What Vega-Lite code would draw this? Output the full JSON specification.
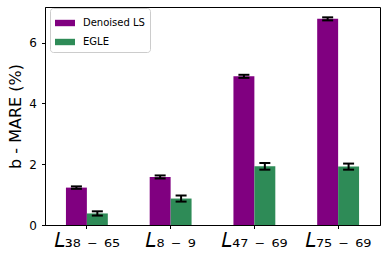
{
  "$schema": "https://vega.github.io/schema/vega-lite/v6.json",
  "width": 335,
  "height": 218,
  "autosize": {"type": "none"},
  "padding": {"left": 45, "top": 7, "right": 7, "bottom": 35},
  "config": {
    "font": "DejaVu Sans",
    "view": {"stroke": "#000000", "strokeWidth": 1},
    "axis": {"domainColor": "#000000", "tickColor": "#000000", "labelColor": "#000000", "titleColor": "#000000", "grid": false, "labelFont": "DejaVu Sans", "titleFont": "DejaVu Sans"},
    "axisY": {"tickSize": 3.5, "labelFontSize": 12, "labelPadding": 5, "titleFontSize": 16, "titleFontWeight": "normal", "titlePadding": 5},
    "axisX": {"tickSize": 3.5, "labelFontSize": 20, "labelPadding": 2, "labelAngle": 0, "title": null}
  },
  "data": {
    "values": [
      {"label": "𝐿₃₈ ₋ ₆₅", "method": "Denoised LS", "value": 1.23, "lo": 1.19, "hi": 1.27},
      {"label": "𝐿₃₈ ₋ ₆₅", "method": "EGLE", "value": 0.38, "lo": 0.31, "hi": 0.45},
      {"label": "𝐿₈ ₋ ₉", "method": "Denoised LS", "value": 1.58, "lo": 1.53, "hi": 1.63},
      {"label": "𝐿₈ ₋ ₉", "method": "EGLE", "value": 0.87, "lo": 0.77, "hi": 0.97},
      {"label": "𝐿₄₇ ₋ ₆₉", "method": "Denoised LS", "value": 4.89, "lo": 4.84, "hi": 4.94},
      {"label": "𝐿₄₇ ₋ ₆₉", "method": "EGLE", "value": 1.93, "lo": 1.82, "hi": 2.04},
      {"label": "𝐿₇₅ ₋ ₆₉", "method": "Denoised LS", "value": 6.78, "lo": 6.73, "hi": 6.83},
      {"label": "𝐿₇₅ ₋ ₆₉", "method": "EGLE", "value": 1.92, "lo": 1.82, "hi": 2.02}
    ]
  },
  "encoding": {
    "x": {"field": "label", "type": "nominal", "sort": null, "scale": {"paddingInner": 0.5, "paddingOuter": 0.25}},
    "xOffset": {"field": "method", "type": "nominal", "sort": ["Denoised LS", "EGLE"], "scale": {"paddingInner": 0, "paddingOuter": 0}}
  },
  "layer": [
    {
      "mark": {"type": "bar"},
      "encoding": {
        "y": {"field": "value", "type": "quantitative", "title": "b - MARE (%)", "scale": {"domain": [0, 7.17], "nice": false, "zero": true}, "axis": {"values": [0, 2, 4, 6]}},
        "color": {
          "field": "method", "type": "nominal",
          "scale": {"domain": ["Denoised LS", "EGLE"], "range": ["#800080", "#2e8b57"]},
          "legend": {
            "orient": "none", "legendX": 5, "legendY": 1, "title": null,
            "symbolType": "M-1,-0.32L1,-0.32L1,0.32L-1,0.32Z", "symbolSize": 400, "symbolStrokeWidth": 0, "symbolOpacity": 1,
            "labelFontSize": 10, "labelFont": "DejaVu Sans", "labelColor": "#000000",
            "padding": 5, "rowPadding": 4, "labelOffset": 8,
            "strokeColor": "#cccccc", "fillColor": "#ffffff", "cornerRadius": 3
          }
        }
      }
    },
    {
      "mark": {"type": "rule", "color": "#000000", "strokeWidth": 2},
      "encoding": {
        "y": {"field": "lo", "type": "quantitative", "title": "b - MARE (%)", "scale": {"domain": [0, 7.17], "nice": false, "zero": true}, "axis": {"values": [0, 2, 4, 6]}},
        "y2": {"field": "hi"}
      }
    },
    {
      "mark": {"type": "tick", "color": "#000000", "thickness": 2, "size": 11, "opacity": 1},
      "encoding": {
        "y": {"field": "lo", "type": "quantitative", "title": "b - MARE (%)", "scale": {"domain": [0, 7.17], "nice": false, "zero": true}, "axis": {"values": [0, 2, 4, 6]}}
      }
    },
    {
      "mark": {"type": "tick", "color": "#000000", "thickness": 2, "size": 11, "opacity": 1},
      "encoding": {
        "y": {"field": "hi", "type": "quantitative", "title": "b - MARE (%)", "scale": {"domain": [0, 7.17], "nice": false, "zero": true}, "axis": {"values": [0, 2, 4, 6]}}
      }
    }
  ]
}
